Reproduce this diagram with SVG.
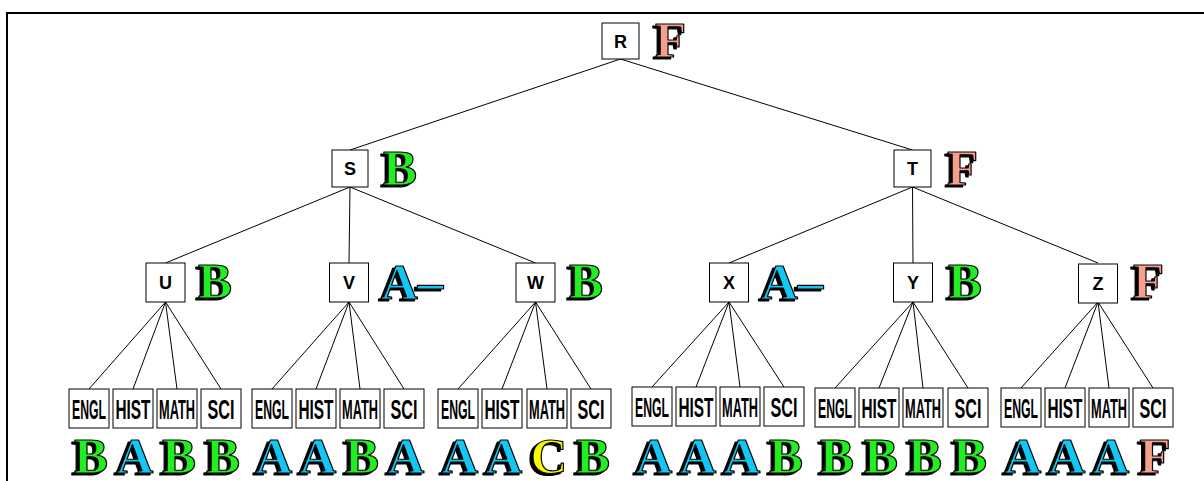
<svg xmlns="http://www.w3.org/2000/svg" width="1204" height="481" viewBox="0 0 1204 481">
<style>
.box{fill:#fff;stroke:#000;stroke-width:1}
.lbl{font-family:"Liberation Sans",Arial,sans-serif;font-weight:bold;font-size:18px;text-anchor:middle;fill:#000}
.leaf{font-family:"Liberation Sans",Arial,sans-serif;font-weight:bold;font-size:28px;text-anchor:middle;fill:#000}
.g{font-family:"Liberation Serif","Times New Roman",serif;font-weight:bold;font-size:51px;stroke:#000;stroke-width:1.2;stroke-linejoin:round}
.sh{fill:#000}
.gr{fill:#22ee22}
.bl{fill:#11c8f4}
.rd{fill:#f4a08c}
.yl{fill:#f8f800}
.m{text-anchor:middle}
.conn line{stroke:#000;stroke-width:1}
</style>
<path d="M7,481 V13 H1204" fill="none" stroke="#000" stroke-width="2"/>
<g class="conn">
<line x1="620.5" y1="59" x2="350" y2="150"/>
<line x1="620.5" y1="59" x2="912.5" y2="150"/>
<line x1="350" y1="187" x2="165.5" y2="263"/>
<line x1="350" y1="187" x2="349" y2="263"/>
<line x1="350" y1="187" x2="535.5" y2="263"/>
<line x1="912.5" y1="187" x2="729" y2="263"/>
<line x1="912.5" y1="187" x2="913" y2="263"/>
<line x1="912.5" y1="187" x2="1098" y2="263"/>
<line x1="165.5" y1="302" x2="89" y2="389"/>
<line x1="165.5" y1="302" x2="133" y2="389"/>
<line x1="165.5" y1="302" x2="177" y2="389"/>
<line x1="165.5" y1="302" x2="221" y2="389"/>
<line x1="349" y1="302" x2="272" y2="389"/>
<line x1="349" y1="302" x2="316" y2="389"/>
<line x1="349" y1="302" x2="360" y2="389"/>
<line x1="349" y1="302" x2="404" y2="389"/>
<line x1="535.5" y1="302" x2="458" y2="389"/>
<line x1="535.5" y1="302" x2="502" y2="389"/>
<line x1="535.5" y1="302" x2="547" y2="389"/>
<line x1="535.5" y1="302" x2="591" y2="389"/>
<line x1="729" y1="302" x2="652" y2="387"/>
<line x1="729" y1="302" x2="696" y2="387"/>
<line x1="729" y1="302" x2="740" y2="387"/>
<line x1="729" y1="302" x2="784" y2="387"/>
<line x1="913" y1="302" x2="835" y2="388"/>
<line x1="913" y1="302" x2="879" y2="388"/>
<line x1="913" y1="302" x2="923" y2="388"/>
<line x1="913" y1="302" x2="968" y2="388"/>
<line x1="1098" y1="302" x2="1021" y2="388"/>
<line x1="1098" y1="302" x2="1065" y2="388"/>
<line x1="1098" y1="302" x2="1109" y2="388"/>
<line x1="1098" y1="302" x2="1153" y2="388"/>
</g>
<g id="node-R"><rect class="box" x="602" y="23" width="37" height="36"/><text class="lbl" x="620.5" y="48">R</text>
<text class="g sh" x="652" y="59">F</text><text class="g rd" x="655" y="57">F</text></g>
<g id="node-S"><rect class="box" x="332" y="150" width="36" height="37"/><text class="lbl" x="350" y="175">S</text>
<text class="g sh" x="380" y="187">B</text><text class="g gr" x="383" y="185">B</text></g>
<g id="node-T"><rect class="box" x="894" y="150" width="37" height="37"/><text class="lbl" x="912.5" y="175">T</text>
<text class="g sh" x="944" y="187">F</text><text class="g rd" x="947" y="185">F</text></g>
<g id="node-U"><rect class="box" x="146" y="263" width="39" height="39"/><text class="lbl" x="165.5" y="289">U</text>
<text class="g sh" x="195" y="300">B</text><text class="g gr" x="198" y="298">B</text></g>
<g id="node-V"><rect class="box" x="329.5" y="263" width="39" height="39"/><text class="lbl" x="349" y="289">V</text>
<text class="g sh" x="378" y="301">A–</text><text class="g bl" x="381" y="299">A–</text></g>
<g id="node-W"><rect class="box" x="516" y="263" width="39" height="39"/><text class="lbl" x="535.5" y="289">W</text>
<text class="g sh" x="566" y="300">B</text><text class="g gr" x="569" y="298">B</text></g>
<g id="node-X"><rect class="box" x="709.5" y="263" width="39" height="39"/><text class="lbl" x="729" y="289">X</text>
<text class="g sh" x="758" y="301">A–</text><text class="g bl" x="761" y="299">A–</text></g>
<g id="node-Y"><rect class="box" x="893.5" y="263" width="39" height="39"/><text class="lbl" x="913" y="289">Y</text>
<text class="g sh" x="945" y="300">B</text><text class="g gr" x="948" y="298">B</text></g>
<g id="node-Z"><rect class="box" x="1078.5" y="264" width="39" height="39"/><text class="lbl" x="1098" y="290">Z</text>
<text class="g sh" x="1130" y="300">F</text><text class="g rd" x="1133" y="298">F</text></g>

<g id="leaf-U-ENGL"><rect class="box" x="69" y="389" width="40" height="39"/><text class="leaf" x="89" y="419" textLength="34" lengthAdjust="spacingAndGlyphs">ENGL</text><text class="g sh m" x="88" y="475">B</text><text class="g gr m" x="91" y="473">B</text></g>
<g id="leaf-U-HIST"><rect class="box" x="113" y="389" width="40" height="39"/><text class="leaf" x="133" y="419" textLength="35" lengthAdjust="spacingAndGlyphs">HIST</text><text class="g sh m" x="132" y="475">A</text><text class="g bl m" x="135" y="473">A</text></g>
<g id="leaf-U-MATH"><rect class="box" x="157" y="389" width="40" height="39"/><text class="leaf" x="177" y="419" textLength="36" lengthAdjust="spacingAndGlyphs">MATH</text><text class="g sh m" x="176" y="475">B</text><text class="g gr m" x="179" y="473">B</text></g>
<g id="leaf-U-SCI"><rect class="box" x="201" y="389" width="40" height="39"/><text class="leaf" x="221" y="419" textLength="27" lengthAdjust="spacingAndGlyphs">SCI</text><text class="g sh m" x="220" y="475">B</text><text class="g gr m" x="223" y="473">B</text></g>

<g id="leaf-V-ENGL"><rect class="box" x="252" y="389" width="40" height="39"/><text class="leaf" x="272" y="419" textLength="34" lengthAdjust="spacingAndGlyphs">ENGL</text><text class="g sh m" x="271" y="475">A</text><text class="g bl m" x="274" y="473">A</text></g>
<g id="leaf-V-HIST"><rect class="box" x="296" y="389" width="40" height="39"/><text class="leaf" x="316" y="419" textLength="35" lengthAdjust="spacingAndGlyphs">HIST</text><text class="g sh m" x="315" y="475">A</text><text class="g bl m" x="318" y="473">A</text></g>
<g id="leaf-V-MATH"><rect class="box" x="340" y="389" width="40" height="39"/><text class="leaf" x="360" y="419" textLength="36" lengthAdjust="spacingAndGlyphs">MATH</text><text class="g sh m" x="359" y="475">B</text><text class="g gr m" x="362" y="473">B</text></g>
<g id="leaf-V-SCI"><rect class="box" x="384" y="389" width="40" height="39"/><text class="leaf" x="404" y="419" textLength="27" lengthAdjust="spacingAndGlyphs">SCI</text><text class="g sh m" x="403" y="475">A</text><text class="g bl m" x="406" y="473">A</text></g>

<g id="leaf-W-ENGL"><rect class="box" x="438" y="389" width="40" height="39"/><text class="leaf" x="458" y="419" textLength="34" lengthAdjust="spacingAndGlyphs">ENGL</text><text class="g sh m" x="457" y="475">A</text><text class="g bl m" x="460" y="473">A</text></g>
<g id="leaf-W-HIST"><rect class="box" x="482" y="389" width="40" height="39"/><text class="leaf" x="502" y="419" textLength="35" lengthAdjust="spacingAndGlyphs">HIST</text><text class="g sh m" x="501" y="475">A</text><text class="g bl m" x="504" y="473">A</text></g>
<g id="leaf-W-MATH"><rect class="box" x="527" y="389" width="40" height="39"/><text class="leaf" x="547" y="419" textLength="36" lengthAdjust="spacingAndGlyphs">MATH</text><text class="g sh m" x="546" y="475">C</text><text class="g yl m" x="549" y="473">C</text></g>
<g id="leaf-W-SCI"><rect class="box" x="571" y="389" width="40" height="39"/><text class="leaf" x="591" y="419" textLength="27" lengthAdjust="spacingAndGlyphs">SCI</text><text class="g sh m" x="590" y="475">B</text><text class="g gr m" x="593" y="473">B</text></g>

<g id="leaf-X-ENGL"><rect class="box" x="632" y="387" width="40" height="39"/><text class="leaf" x="652" y="417" textLength="34" lengthAdjust="spacingAndGlyphs">ENGL</text><text class="g sh m" x="651" y="475">A</text><text class="g bl m" x="654" y="473">A</text></g>
<g id="leaf-X-HIST"><rect class="box" x="676" y="387" width="40" height="39"/><text class="leaf" x="696" y="417" textLength="35" lengthAdjust="spacingAndGlyphs">HIST</text><text class="g sh m" x="695" y="475">A</text><text class="g bl m" x="698" y="473">A</text></g>
<g id="leaf-X-MATH"><rect class="box" x="720" y="387" width="40" height="39"/><text class="leaf" x="740" y="417" textLength="36" lengthAdjust="spacingAndGlyphs">MATH</text><text class="g sh m" x="739" y="475">A</text><text class="g bl m" x="742" y="473">A</text></g>
<g id="leaf-X-SCI"><rect class="box" x="764" y="387" width="40" height="39"/><text class="leaf" x="784" y="417" textLength="27" lengthAdjust="spacingAndGlyphs">SCI</text><text class="g sh m" x="783" y="475">B</text><text class="g gr m" x="786" y="473">B</text></g>

<g id="leaf-Y-ENGL"><rect class="box" x="815" y="388" width="40" height="39"/><text class="leaf" x="835" y="418" textLength="34" lengthAdjust="spacingAndGlyphs">ENGL</text><text class="g sh m" x="834" y="475">B</text><text class="g gr m" x="837" y="473">B</text></g>
<g id="leaf-Y-HIST"><rect class="box" x="859" y="388" width="40" height="39"/><text class="leaf" x="879" y="418" textLength="35" lengthAdjust="spacingAndGlyphs">HIST</text><text class="g sh m" x="878" y="475">B</text><text class="g gr m" x="881" y="473">B</text></g>
<g id="leaf-Y-MATH"><rect class="box" x="903" y="388" width="40" height="39"/><text class="leaf" x="923" y="418" textLength="36" lengthAdjust="spacingAndGlyphs">MATH</text><text class="g sh m" x="922" y="475">B</text><text class="g gr m" x="925" y="473">B</text></g>
<g id="leaf-Y-SCI"><rect class="box" x="948" y="388" width="40" height="39"/><text class="leaf" x="968" y="418" textLength="27" lengthAdjust="spacingAndGlyphs">SCI</text><text class="g sh m" x="967" y="475">B</text><text class="g gr m" x="970" y="473">B</text></g>

<g id="leaf-Z-ENGL"><rect class="box" x="1001" y="388" width="40" height="39"/><text class="leaf" x="1021" y="418" textLength="34" lengthAdjust="spacingAndGlyphs">ENGL</text><text class="g sh m" x="1020" y="475">A</text><text class="g bl m" x="1023" y="473">A</text></g>
<g id="leaf-Z-HIST"><rect class="box" x="1045" y="388" width="40" height="39"/><text class="leaf" x="1065" y="418" textLength="35" lengthAdjust="spacingAndGlyphs">HIST</text><text class="g sh m" x="1064" y="475">A</text><text class="g bl m" x="1067" y="473">A</text></g>
<g id="leaf-Z-MATH"><rect class="box" x="1089" y="388" width="40" height="39"/><text class="leaf" x="1109" y="418" textLength="36" lengthAdjust="spacingAndGlyphs">MATH</text><text class="g sh m" x="1108" y="475">A</text><text class="g bl m" x="1111" y="473">A</text></g>
<g id="leaf-Z-SCI"><rect class="box" x="1133" y="388" width="40" height="39"/><text class="leaf" x="1153" y="418" textLength="27" lengthAdjust="spacingAndGlyphs">SCI</text><text class="g sh m" x="1152" y="475">F</text><text class="g rd m" x="1155" y="473">F</text></g>
</svg>
